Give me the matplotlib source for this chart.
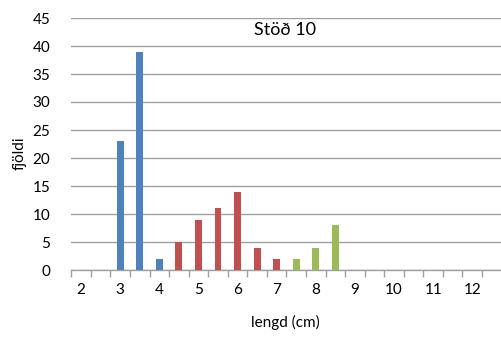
import matplotlib
matplotlib.use("Agg")
import matplotlib.pyplot as plt
import numpy as np

categories = [2, 2.5, 3, 3.5, 4, 4.5, 5, 5.5, 6, 6.5, 7, 7.5, 8, 8.5, 9, 9.5, 10, 10.5, 11, 11.5, 12, 12.5]
blue_vals  = [0, 0, 23, 39, 2, 0, 0, 0, 0, 0, 0, 0, 0, 0, 0, 0, 0, 0, 0, 0, 0, 0]
red_vals   = [0, 0, 0, 0, 0, 5, 9, 11, 14, 4, 2, 0, 0, 0, 0, 0, 0, 0, 0, 0, 0, 0]
green_vals = [0, 0, 0, 0, 0, 0, 0, 0, 0, 0, 0, 2, 4, 8, 0, 0, 0, 0, 0, 0, 0, 0]
tick_labels = ["2", "", "3", "", "4", "", "5", "", "6", "", "7", "", "8", "", "9", "", "10", "", "11", "", "12", ""]
title = "Stöð 10"
xlabel = "lengd (cm)"
ylabel = "fjöldi"

plt.rcParams['font.family'] = ['Lato', 'DejaVu Sans']

W, H = 502, 338
fig = plt.figure(figsize=(W / 100, H / 100), dpi=100)
left = 71.3 / W
bottom = (H - 270) / H
top = (H - 18) / H
ax = fig.add_axes([left, bottom, 1.0 - left, top - bottom])

x = np.arange(len(categories))
bw = 0.35
for vals, col in [(blue_vals, '#4F81BD'), (red_vals, '#C0504D'), (green_vals, '#9BBB59')]:
    v = np.array(vals, dtype=float)
    m = v > 0
    ax.bar(x[m], v[m], width=bw, color=col, zorder=3)

ax.set_ylim(0, 45)
ax.set_yticks(np.arange(0, 46, 5))
ax.set_xlim(-0.5, -0.5 + (W - 71.3) / 19.56)
ax.yaxis.grid(True, color='#A0A0A0', linewidth=1.0, zorder=0)
ax.set_axisbelow(True)

for s in ['top', 'right', 'left']:
    ax.spines[s].set_visible(False)
ax.spines['bottom'].set_color('#A0A0A0')
ax.spines['bottom'].set_linewidth(1.0)

ax.set_xticks(np.arange(-0.5, len(categories), 1.0))
ax.set_xticklabels([])
ax.tick_params(axis='x', which='major', length=5, color='#A0A0A0', width=1.0)
ax.set_xticks(x, minor=True)
ax.set_xticklabels(tick_labels, minor=True, fontsize=11)
ax.tick_params(axis='x', which='minor', length=0, pad=9)
ax.tick_params(axis='y', length=0, pad=15, labelsize=11)

fig.text(285 / W, 1 - 30 / H, title, ha='center', va='center', fontsize=13)
fig.text(285 / W, 1 - 322 / H, xlabel, ha='center', va='center', fontsize=11)
fig.text(20 / W, 1 - 153 / H, ylabel, ha='center', va='center', rotation=90, fontsize=11)

fig.savefig("out.png", dpi=100)
